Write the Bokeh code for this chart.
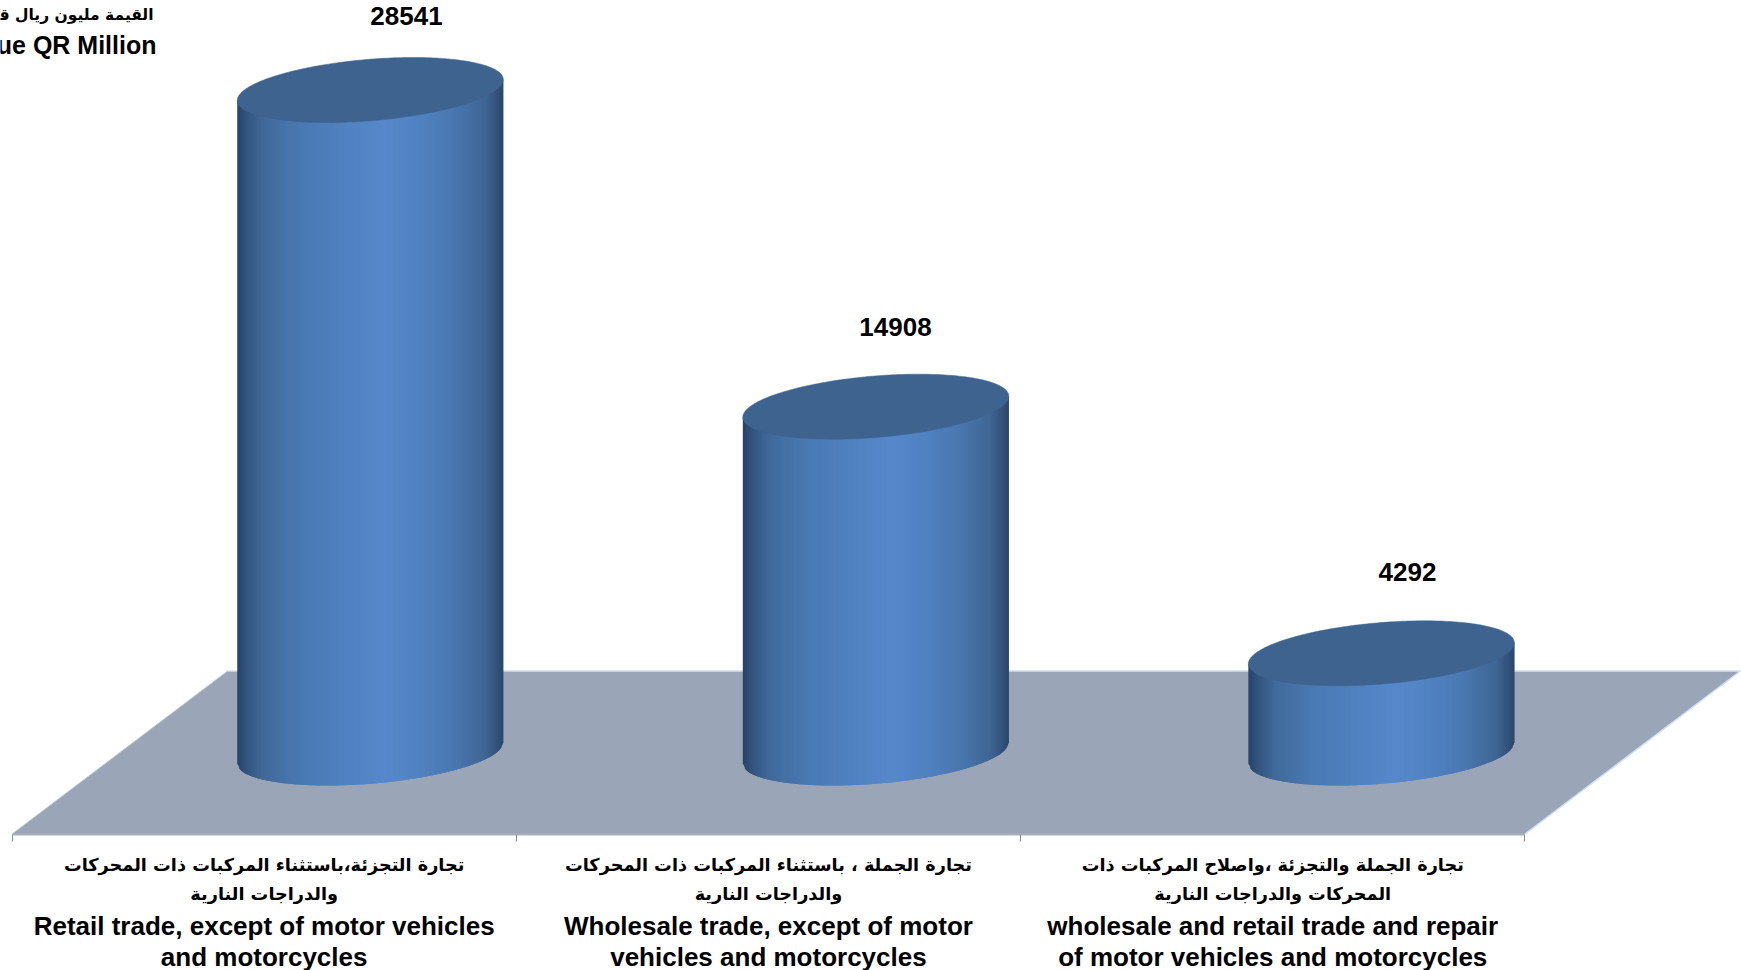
import numpy as np
from bokeh.plotting import figure
from bokeh.models import Range1d, LinearAxis, FixedTicker
from bokeh.core.properties import value
from bokeh.embed import file_html
from bokeh.resources import INLINE

# ---- data ----
values = [28541, 14908, 4292]
value_labels = ["28541", "14908", "4292"]
labels_ar = [
    "تجارة التجزئة،باستثناء المركبات ذات المحركات\nوالدراجات النارية",
    "تجارة الجملة ، باستثناء المركبات ذات المحركات\nوالدراجات النارية",
    "تجارة الجملة والتجزئة ،واصلاح المركبات ذات\nالمحركات والدراجات النارية",
]
labels_en = [
    "Retail trade, except of motor vehicles\nand motorcycles",
    "Wholesale trade, except of motor\nvehicles and motorcycles",
    "wholesale and retail trade and repair\nof motor vehicles and motorcycles",
]
title_ar = "القيمة مليون ريال قطري"
title_en = "Value QR Million"

# ---- geometry (pixels of the page -> data units) ----
W, H = 1741, 970
ORIGIN = 0
PITCH = 504.3          # px per category
CAT0 = 263.65          # page px of category 0
BASE = 752.5           # page px of value 0 (centre of the cylinder's base)
PXV = 663.0 / 28541    # px per value unit

def dx(px):  # page x -> data x
    return (px - CAT0) / PITCH
def dy(px):  # page y -> data y
    return (BASE - px) / PXV

p = figure(width=W, height=H, output_backend="svg", toolbar_location=None,
           x_range=Range1d(dx(ORIGIN), dx(ORIGIN + W)), y_range=Range1d(dy(ORIGIN + H), dy(ORIGIN)),
           x_axis_type=None, y_axis_type=None, min_border=0, outline_line_color=None)
p.grid.visible = False
p.background_fill_color = "white"

# floor
FRONT, BACK, DEPTH = dy(833.5), dy(670.5), 215.5 / PITCH
p.patch([-0.5, 2.5, 2.5 + DEPTH, -0.5 + DEPTH], [FRONT, FRONT, BACK, BACK],
        fill_color="#9aa6b7", line_color=None)
p.line([-0.5 + DEPTH, 2.5 + DEPTH, 2.5], [BACK, BACK, FRONT], line_color="#cfdff2", line_width=1.5)
p.line([-0.5, -0.5 + DEPTH], [FRONT, BACK], line_color="#c3cfde", line_width=1)

# axis: ticks at category boundaries
ax = LinearAxis(ticker=FixedTicker(ticks=[-0.5, 0.5, 1.5, 2.5]), fixed_location=FRONT,
                bounds=(-0.5, 2.5),
                major_label_text_font_size="0px", major_label_text_color=None,
                axis_line_color="#a9afb8", axis_line_width=2,
                major_tick_line_color="#8a8a8a", major_tick_line_width=1,
                major_tick_out=7, major_tick_in=0, minor_tick_line_color=None)
p.add_layout(ax, "below")

# cylinders
OFFSET = 107.35 / PITCH
BAR_PITCH = 1.0025
HALF_W = 133.0 / PITCH
SLOPE = 10.5 / 133.0
RISE = 30.76
stops_t = [0.0, 0.03, 0.10, 0.25, 0.55, 0.65, 0.80, 0.93, 0.98, 1.0]
stops_rgb = np.array([
    [0x27, 0x42, 0x66], [0x31, 0x52, 0x7c], [0x41, 0x6a, 0x9b], [0x4a, 0x7a, 0xb4],
    [0x56, 0x88, 0xcb], [0x52, 0x84, 0xc5], [0x4b, 0x79, 0xb3], [0x3f, 0x66, 0x95],
    [0x31, 0x50, 0x78], [0x2b, 0x47, 0x6b]], dtype=float)

def grad(t):
    return "#%02x%02x%02x" % tuple(int(round(np.interp(t, stops_t, stops_rgb[:, i]))) for i in range(3))

def arc(u, sign):
    return (SLOPE * u * HALF_W * PITCH + sign * RISE * np.sqrt(np.clip(1 - u * u, 0, 1))) / PXV

N = 133
edges = np.linspace(-1, 1, N + 1)
step = edges[1] - edges[0]
for i, v in enumerate(values):
    cx = 1 + OFFSET + (i - 1) * BAR_PITCH
    xs, ys, cols = [], [], []
    for k in range(N):
        u0 = edges[k]
        u1 = min(edges[k + 1] + step, 1.0)   # strips overlap the next one, so that no seam shows
        xs.append([cx + u0 * HALF_W, cx + u1 * HALF_W, cx + u1 * HALF_W, cx + u0 * HALF_W])
        ys.append([arc(u0, -1), arc(u1, -1), v + arc(u1, 0), v + arc(u0, 0)])
        cols.append(grad((edges[k] + edges[k + 1] + 2) / 4))
    p.patches(xs, ys, fill_color=cols, fill_alpha=1.0, line_color=None)
    t = np.linspace(0, 2 * np.pi, 240)
    ut = np.cos(t)
    ex = cx + ut * HALF_W
    ey = v + (SLOPE * ut * HALF_W * PITCH + RISE * np.sin(t)) / PXV
    p.patch(ex, ey, fill_color="#3e638f", line_color="#3e638f", line_width=0.5)

# value labels
p.text([dx(406), dx(895), dx(1407)], [dy(15), dy(326), dy(571)], text=value_labels,
       text_font=value("Liberation Sans"), text_font_style="bold", text_font_size="26px",
       text_color="black", text_align="center", text_baseline="middle")

# category labels
p.text([0, 1, 2], [dy(879)] * 3, text=labels_ar, text_font=value("DejaVu Sans"), text_font_style="bold",
       text_font_size="17.7px", text_color="black", text_align="center", text_baseline="middle",
       text_line_height=1.47)
p.text([0, 1, 2], [dy(941)] * 3, text=labels_en, text_font=value("Liberation Sans"), text_font_style="bold",
       text_font_size="26px", text_color="black", text_align="center", text_baseline="middle",
       text_line_height=1.04)

# y title
p.text([dx(153)], [dy(14)], text=[title_ar], text_font=value("DejaVu Sans"), text_font_style="bold",
       text_font_size="15.5px", text_color="black", text_align="right", text_baseline="middle")
p.text([dx(156)], [dy(44)], text=[title_en], text_font=value("Liberation Sans"), text_font_style="bold",
       text_font_size="25px", text_color="black", text_align="right", text_baseline="middle")

open("out.html", "w").write(file_html(p, INLINE))
